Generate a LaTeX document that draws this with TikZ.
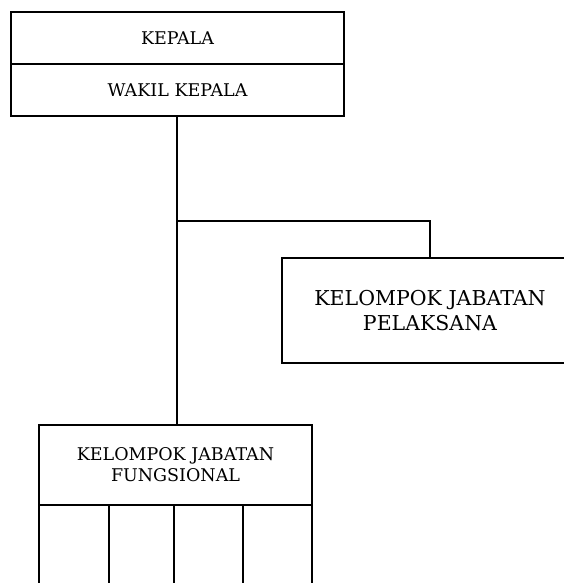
\documentclass[tikz,border=0pt]{standalone}
\usepackage{fontspec}
\setmainfont{DejaVu Serif}
\usetikzlibrary{positioning}
\tikzset{%
		garis/.style={draw,line width=2.6pt},
		kotak/.style={draw,line width=2.6pt,rectangle,inner sep=0pt,align=center,font=\fontsize{17.5}{21}\selectfont}
	}

\begin{document}
\begin{tikzpicture}[x=1pt,y=-1pt]
    \useasboundingbox (0,0) rectangle (563,583) ;
    \node[kotak,minimum width=333pt,minimum height=52pt] (kepala) at (177.5,38) {KEPALA} ;
    \node[kotak,minimum width=333pt,minimum height=52pt] (wakil) at (177.5,90) {WAKIL KEPALA} ;
    \node[kotak,minimum width=296pt,minimum height=105pt,font=\fontsize{20.5}{25}\selectfont] (pelaksana) at (430,310.5) {KELOMPOK JABATAN\\PELAKSANA} ;
    \node[kotak,minimum width=273pt,minimum height=80pt] (fungsional) at (175.5,465) {KELOMPOK JABATAN\\FUNGSIONAL} ;
    \coordinate (cabang) at (177,221) ;
    \draw[garis] (wakil.south -| cabang) -- (fungsional.north -| cabang) ;
    \draw[garis] (cabang) -| (pelaksana.north) ;
    \foreach \x in {39,109,174,243,312}
        \draw[garis] (\x,505) -- (\x,592) ;
\end{tikzpicture}
\end{document}
